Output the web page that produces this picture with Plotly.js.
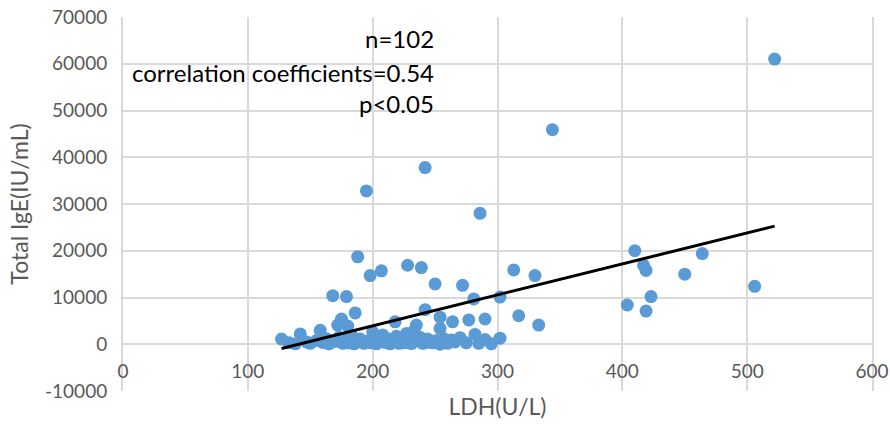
<!DOCTYPE html>
<html>
<head>
<meta charset="utf-8">
<script src="https://cdn.plot.ly/plotly-3.0.1.min.js"></script>
<style>html,body{margin:0;padding:0;background:#fff;}#chart{width:890px;height:425px;}</style>
</head>
<body>
<div id="chart"></div>
<script>
// LDH (U/L) values
const LDH = [
  522, 344, 242, 195, 286, 188, 198, 207, 228, 239,
  250, 272, 313, 330, 410, 417, 419, 464, 450, 506,
  423, 404, 419, 333, 168, 179, 281, 302, 242, 186,
  175, 254, 264, 277, 290, 317, 218, 172, 180, 235,
  254, 158, 142, 127, 282, 290, 302, 270, 263, 254,
  242, 232, 246,
  133, 138, 147, 150, 155, 160, 163, 165, 170, 173,
  176, 178, 181, 183, 185, 188, 190, 193, 196, 199,
  201, 203, 205, 208, 210, 212, 214, 216, 219, 221,
  223, 225, 227, 229, 231, 233, 236, 238, 240, 244,
  248, 251, 257, 260, 266, 275, 285, 295, 200
];
// Total IgE (IU/mL) values
const IGE = [
  61000, 45900, 37800, 32800, 28000, 18700, 14700, 15700, 16900, 16400,
  12900, 12600, 15900, 14700, 20000, 16900, 15800, 19400, 15000, 12400,
  10200, 8400, 7100, 4100, 10400, 10200, 9700, 10100, 7400, 6700,
  5400, 5800, 4800, 5200, 5400, 6100, 4800, 4100, 3900, 4100,
  3400, 3000, 2200, 1100, 2100, 1000, 1300, 1400, 900, 0,
  300, 500, 500,
  300, 100, 500, 200, 800, 400, 1200, 100, 600, 1500,
  200, 900, 300, 2000, 100, 500, 1100, 200, 700, 300,
  1500, 100, 900, 2000, 400, 1200, 100, 600, 1700, 200,
  900, 300, 2300, 1000, 150, 2800, 700, 1500, 200, 1100,
  300, 800, 1200, 200, 500, 300, 200, 100, 2600
];
// Trend line
const TREND_SLOPE = 66.25;
const TREND_INTERCEPT = -9320;
// Axis ticks
const X_TICKS = [0, 100, 200, 300, 400, 500, 600];
const Y_TICKS = [-10000, 0, 10000, 20000, 30000, 40000, 50000, 60000, 70000];
const Y_TICK_LABELS = ['-10000', '0', '10000', '20000', '30000', '40000', '50000', '60000', '70000'];
// Texts
const STATS_LINES = ['n=102', 'correlation coefficients=0.54', 'p<0.05'];
const X_TITLE = 'LDH(U/L)';
const Y_TITLE = 'Total IgE(IU/mL)';

const xMin = Math.min(...LDH), xMax = Math.max(...LDH);
const trendX = [xMin, xMax];
const trendY = trendX.map(v => TREND_SLOPE * v + TREND_INTERCEPT);

const FONT = 'Lato, "Open Sans", sans-serif';
const GRID = '#d9d9d9';
const TXT = '#595959';

const traces = [
  {
    type: 'scatter', mode: 'markers', x: LDH, y: IGE,
    marker: {color: '#5b9bd5', size: 13, line: {width: 0}},
    hoverinfo: 'skip', showlegend: false, cliponaxis: false
  },
  {
    type: 'scatter', mode: 'lines', x: trendX, y: trendY,
    line: {color: '#000000', width: 3},
    hoverinfo: 'skip', showlegend: false
  }
];

const statY = [38, 72, 103];
const plotTop = 17, plotH = 374;
const annotations = STATS_LINES.map((t, i) => ({
  xref: 'paper', yref: 'paper',
  x: (436 - 123) / 749, y: 1 - (statY[i] - plotTop) / plotH,
  xanchor: 'right', yanchor: 'middle',
  text: t, showarrow: false,
  font: {family: FONT, size: 24, color: '#000000'}
}));

const layout = {
  width: 890, height: 425,
  margin: {l: 123, r: 18, t: 17, b: 34},
  paper_bgcolor: '#ffffff', plot_bgcolor: '#ffffff',
  font: {family: FONT, size: 19, color: TXT},
  xaxis: {
    range: [0, 600], tickvals: X_TICKS,
    anchor: 'free', position: 47 / 374,
    showgrid: true, gridcolor: GRID, gridwidth: 2,
    zeroline: false, showline: false, ticks: '',
    ticklabelstandoff: 14,
    tickfont: {family: FONT, size: 19, color: TXT},
    title: {text: X_TITLE, font: {family: FONT, size: 23, color: TXT}, standoff: 17},
    automargin: false
  },
  yaxis: {
    range: [-10000, 70000], tickvals: Y_TICKS, ticktext: Y_TICK_LABELS,
    showgrid: true, gridcolor: GRID, gridwidth: 2,
    zeroline: false, showline: true, linecolor: GRID, linewidth: 2, mirror: true,
    ticks: '', ticklabelstandoff: 10,
    tickfont: {family: FONT, size: 19, color: TXT},
    title: {text: Y_TITLE, font: {family: FONT, size: 23, color: TXT}, standoff: 10},
    automargin: false
  },
  annotations: annotations
};

Plotly.newPlot('chart', traces, layout, {displayModeBar: false, staticPlot: true});
</script>
</body>
</html>
